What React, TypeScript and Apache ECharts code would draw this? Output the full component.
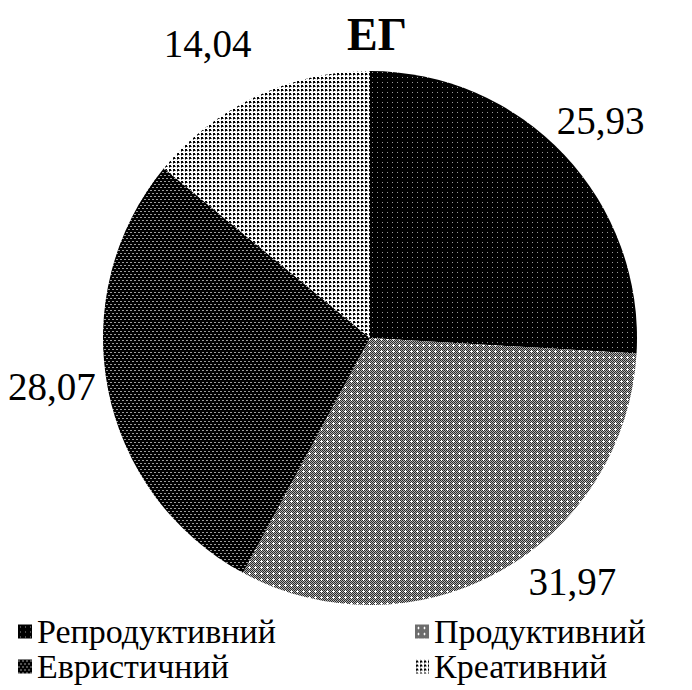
import React, { useEffect, useRef } from "react";
import * as echarts from "echarts";

const TITLE = "ЕГ";
const categories = ["Репродуктивний", "Продуктивний", "Евристичний", "Креативний"];
const values = [25.93, 31.97, 28.07, 14.04];
const leftLegend = ["Репродуктивний", "Евристичний"];
const rightLegend = ["Продуктивний", "Креативний"];

// layout nudges for the labels (Excel "best fit" placement)
const labelNudge = [
  [0, 0],
  [48, -33],
  [-7, -12],
  [-27, -8],
];

type Px = [number, number, string];

function makeTile(w: number, h: number, bg: string, pixels: Px[]) {
  const c = document.createElement("canvas");
  c.width = w;
  c.height = h;
  const ctx = c.getContext("2d")!;
  ctx.fillStyle = bg;
  ctx.fillRect(0, 0, w, h);
  pixels.forEach(([x, y, col]) => {
    ctx.fillStyle = col;
    ctx.fillRect(x, y, 1, 1);
  });
  return c;
}

function buildPatterns() {
  const p1 = makeTile(5, 5, "#000000", [[2, 2, "#9a9a9a"]]);
  const p2px: Px[] = [];
  for (let y = 0; y < 6; y++)
    for (let x = 0; x < 6; x++) if ((x + y) % 2 === 0) p2px.push([x, y, "#2a2a2a"]);
  p2px.push([3, 3, "#ffffff"], [2, 3, "#ffffff"], [4, 3, "#ffffff"], [3, 2, "#ffffff"], [3, 4, "#ffffff"]);
  const p2 = makeTile(6, 6, "#b0b0b0", p2px);
  const p3 = makeTile(4, 6, "#000000", [
    [0, 1, "#9c9c9c"],
    [1, 1, "#9c9c9c"],
    [2, 4, "#9c9c9c"],
    [3, 4, "#9c9c9c"],
  ]);
  const p4 = makeTile(4, 4, "#ffffff", [
    [1, 1, "#000000"],
    [2, 1, "#000000"],
    [1, 2, "#000000"],
    [2, 2, "#000000"],
    [3, 2, "#777777"],
    [1, 3, "#777777"],
  ]);
  return [p1, p2, p3, p4].map((img) => ({ image: img, repeat: "repeat" as const }));
}

const FONT = "Liberation Serif";

export default function App() {
  const ref = useRef<HTMLDivElement>(null);
  useEffect(() => {
    if (!ref.current) return;
    const chart = echarts.init(ref.current, undefined, { renderer: "svg" });
    const patterns = buildPatterns();
    const legendBase = {
      orient: "vertical" as const,
      icon: "rect",
      itemWidth: 14,
      itemHeight: 14,
      itemGap: 0,
      padding: 0,
      selectedMode: false,
      textStyle: {
        fontFamily: FONT,
        fontSize: 34,
        color: "#000",
        lineHeight: 35,
        height: 35,
        padding: [0, 0, 0, 0],
      },
    };
    chart.setOption({
      animation: false,
      backgroundColor: "#ffffff",
      title: {
        text: TITLE,
        left: 372,
        top: 6,
        textAlign: "center",
        textStyle: { fontFamily: FONT, fontSize: 46, fontWeight: "bold", color: "#000" },
      },
      legend: [
        { ...legendBase, data: leftLegend, left: 18, top: 614 },
        { ...legendBase, data: rightLegend, left: 415, top: 614 },
      ],
      series: [
        {
          type: "pie",
          center: [370, 338],
          radius: [0, 267],
          startAngle: 90,
          clockwise: true,
          label: { show: false },
          labelLine: { show: false },
          emphasis: { disabled: true },
          itemStyle: { borderWidth: 0 },
          data: categories.map((name, i) => ({
            name,
            value: values[i],
            itemStyle: { color: patterns[i] },
          })),
        },
        {
          type: "pie",
          center: [370, 338],
          radius: [300, 328],
          startAngle: 90,
          clockwise: true,
          silent: true,
          emphasis: { disabled: true },
          itemStyle: { color: "rgba(0,0,0,0)", borderWidth: 0 },
          labelLine: { show: false },
          label: {
            show: true,
            position: "inside",
            fontFamily: FONT,
            fontSize: 39,
            color: "#000",
            formatter: (p: any) => Number(p.value).toFixed(2).replace(".", ","),
          },
          labelLayout: (p: any) => ({
            dx: labelNudge[p.dataIndex][0],
            dy: labelNudge[p.dataIndex][1],
          }),
          data: categories.map((name, i) => ({ name, value: values[i] })),
        },
      ],
    });
    return () => chart.dispose();
  }, []);
  return (
    <div
      ref={ref}
      style={{ position: "fixed", left: 0, top: 0, width: 692, height: 690, background: "#fff" }}
    />
  );
}
